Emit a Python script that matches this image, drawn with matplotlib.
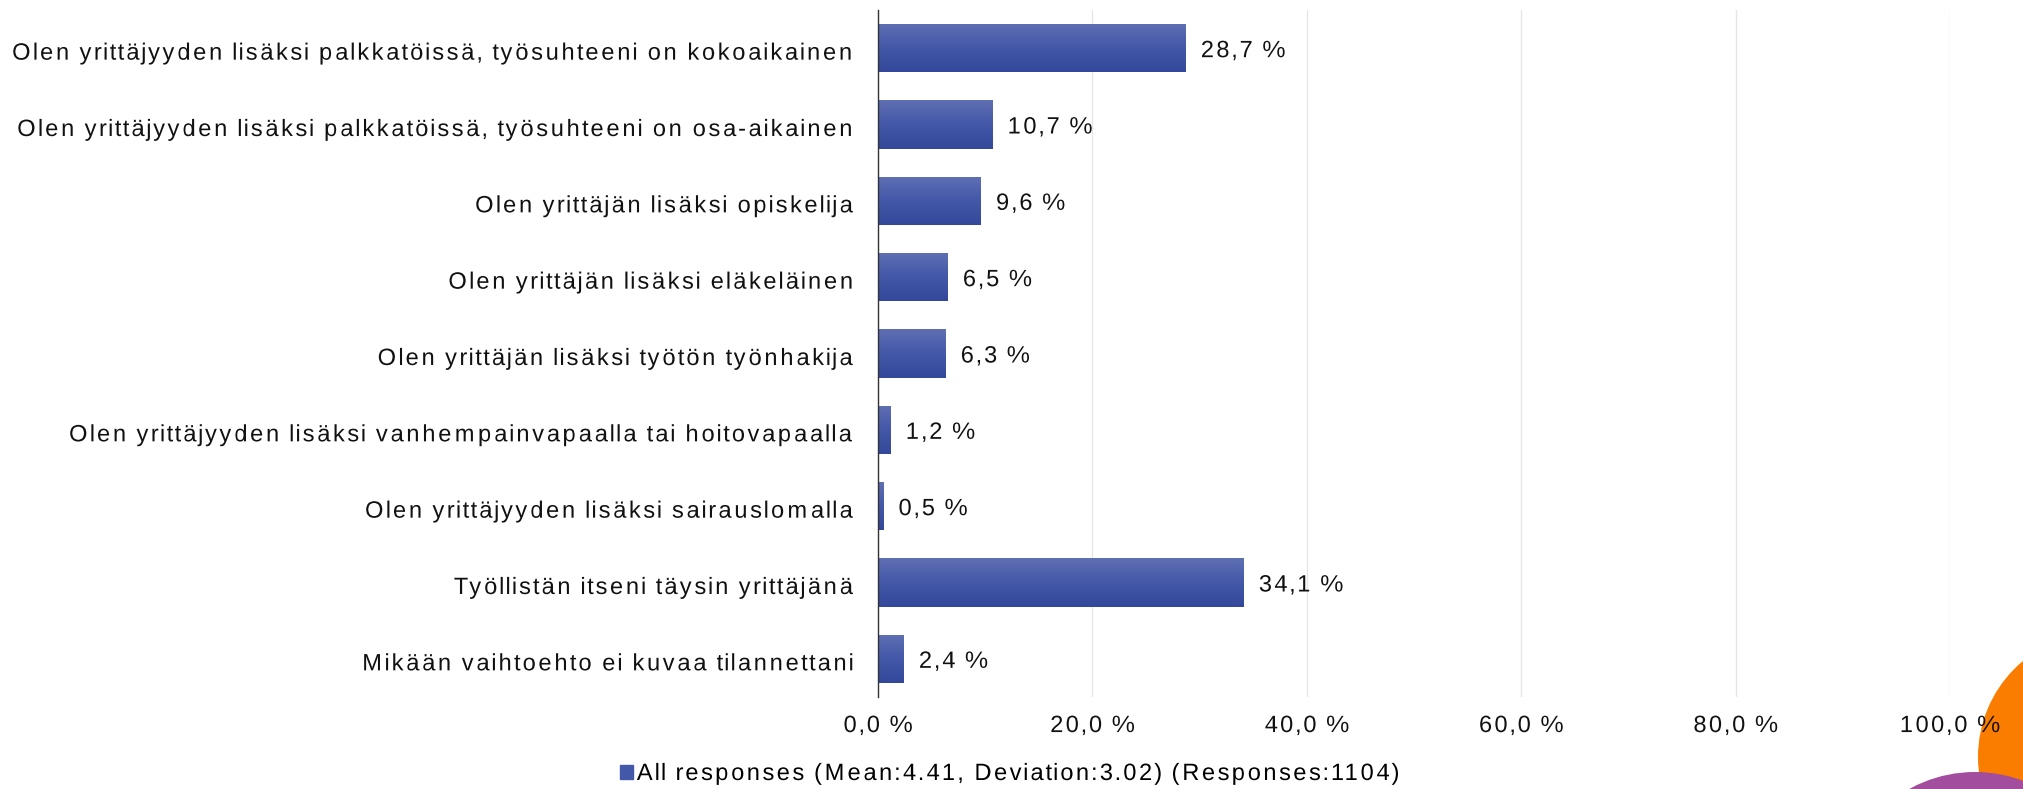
import numpy as np
import matplotlib
matplotlib.use("Agg")
import matplotlib.pyplot as plt
from matplotlib.colors import LinearSegmentedColormap
from matplotlib.patches import Circle
from matplotlib.path import Path
from matplotlib.patheffects import AbstractPathEffect
from matplotlib.transforms import ScaledTranslation

# -------------------------
# Data
# -------------------------
categories = [
    "Olen yrittäjyyden lisäksi palkkatöissä, työsuhteeni on kokoaikainen",
    "Olen yrittäjyyden lisäksi palkkatöissä, työsuhteeni on osa-aikainen",
    "Olen yrittäjän lisäksi opiskelija",
    "Olen yrittäjän lisäksi eläkeläinen",
    "Olen yrittäjän lisäksi työtön työnhakija",
    "Olen yrittäjyyden lisäksi vanhempainvapaalla tai hoitovapaalla",
    "Olen yrittäjyyden lisäksi sairauslomalla",
    "Työllistän itseni täysin yrittäjänä",
    "Mikään vaihtoehto ei kuvaa tilannettani",
]
values = [28.7, 10.7, 9.6, 6.5, 6.3, 1.2, 0.5, 34.1, 2.4]
xticks = [0, 20, 40, 60, 80, 100]
legend_label = "All responses (Mean:4.41, Deviation:3.02) (Responses:1104)"

plt.rcParams['font.family'] = ['Liberation Sans', 'DejaVu Sans']
FS = 17
TXT = "#111111"


class Spread(AbstractPathEffect):
    """Spreads the glyph contours of a text apart (wide letter spacing)."""

    def __init__(self, ratio=0.2, anchor="left"):
        super().__init__()
        self.ratio = ratio
        self.anchor = anchor

    def draw_path(self, renderer, gc, tpath, affine, rgbFace=None):
        verts = tpath.vertices.copy()
        codes = tpath.codes
        if codes is None or len(verts) == 0:
            renderer.draw_path(gc, tpath, affine, rgbFace)
            return
        starts = list(np.where(codes == Path.MOVETO)[0]) + [len(verts)]
        xmin, xmax = verts[:, 0].min(), verts[:, 0].max()
        ax_ = {"left": xmin, "right": xmax, "center": (xmin + xmax) / 2}[self.anchor]
        for a, b in zip(starts[:-1], starts[1:]):
            cx = verts[a:b, 0].mean()
            verts[a:b, 0] += self.ratio * (cx - ax_)
        renderer.draw_path(gc, Path(verts, codes), affine, rgbFace)


W, H, DPI = 2024, 789, 100
fig = plt.figure(figsize=(W / DPI, H / DPI), dpi=DPI)

# decorative circles bottom right (behind)
deco = fig.add_axes([0, 0, 1, 1], zorder=-1)
deco.set_xlim(0, W)
deco.set_ylim(H, 0)
deco.axis("off")
deco.add_patch(Circle((2103, 757), 125, color="#fb7d00", lw=0))
deco.add_patch(Circle((1975, 908), 136, color="#a24d9d", lw=0))

ax = fig.add_axes([878 / W, 1 - 697 / H, (1950 - 878) / W, (697 - 10) / H])
ax.patch.set_alpha(0)

# light on top, darker at the bottom
grad_cmap = LinearSegmentedColormap.from_list("bar", ["#5f6fb3", "#4458a9", "#33489a"])
grad = np.linspace(0, 1, 64).reshape(-1, 1)

y = np.arange(len(categories))
bars = ax.barh(y, values, height=0.63, color="none", zorder=2)
for b in bars:
    x0, y0 = b.get_x(), b.get_y()
    im = ax.imshow(grad, extent=[x0, x0 + b.get_width(), y0 + b.get_height(), y0],
                   aspect="auto", cmap=grad_cmap, origin="upper", zorder=2)
    im.set_clip_path(b)

for yi, v in zip(y, values):
    t = ax.annotate(f"{v:.1f} %".replace(".", ","), (v, yi), xytext=(14, -3),
                    textcoords="offset pixels", va="center", ha="left",
                    fontsize=FS, color=TXT)
    t.set_path_effects([Spread(0.18, "left")])

ax.set_xlim(0, 100)
ax.set_ylim(len(categories) - 0.5, -0.5)
ax.set_xticks(xticks)
ax.set_xticklabels([f"{t:.1f} %".replace(".", ",") for t in xticks], fontsize=FS, color=TXT)
ax.set_yticks(y)
ax.set_yticklabels(categories, fontsize=FS, color=TXT)
ax.tick_params(axis="both", length=0)
ax.tick_params(axis="x", pad=13)
ax.tick_params(axis="y", pad=16)
for lab in ax.get_xticklabels():
    lab.set_path_effects([Spread(0.18, "center")])
shift = ScaledTranslation(0, -3 / DPI, fig.dpi_scale_trans)
for lab in ax.get_yticklabels():
    lab.set_path_effects([Spread(0.215, "right")])
    lab.set_transform(lab.get_transform() + shift)

ax.grid(axis="x", color="#e6e6e6", linewidth=1, zorder=0)
ax.set_axisbelow(True)
for s in ["top", "right", "bottom"]:
    ax.spines[s].set_visible(False)
ax.spines["left"].set_color("#333333")
ax.spines["left"].set_linewidth(1)
ax.spines["left"].set_zorder(3)

# legend
leg = fig.legend(handles=[plt.Rectangle((0, 0), 1, 1, color="#4458a9")], labels=[legend_label],
                 loc="center left", bbox_to_anchor=(620 / W, 1 - 774 / H), frameon=False,
                 fontsize=FS, handlelength=0.55, handleheight=0.55, handletextpad=0.1,
                 borderpad=0, borderaxespad=0)
for t in leg.get_texts():
    t.set_path_effects([Spread(0.2, "left")])

fig.savefig("out.png", dpi=DPI)
